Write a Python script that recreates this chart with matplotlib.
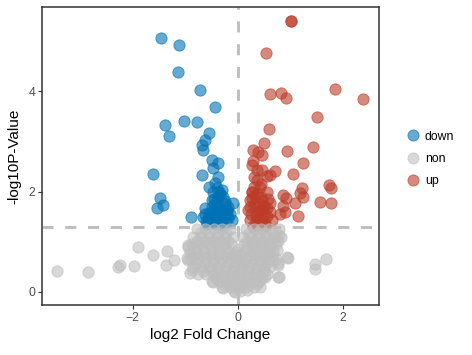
import matplotlib
matplotlib.use('Agg')
import matplotlib.pyplot as plt
from matplotlib.lines import Line2D

plt.rcParams['font.family'] = ['Liberation Sans', 'DejaVu Sans']

# log2 fold change / -log10 p
down_x = [-1.47, -1.12, -1.14, -0.72, -0.44, -1.39, -1.31, -1.03, -0.78, -0.55,
          -0.63, -0.69, -0.67, -0.50, -0.38, -0.48, -1.62, -0.69, -0.38, -0.44,
          -0.40, -0.30, -0.48, -0.29, -0.10, -0.50, -0.63, -0.40, -0.21, -1.49,
          -1.43, -1.54, -0.90, -0.67, -0.48, -0.29, -0.11, -0.53, -0.34, -0.19,
          -0.55, -0.35, -0.45, -0.25, -0.15, -0.60, -0.42, -0.22, -0.38, -0.55,
          -0.33, -0.45, -0.28, -0.38, -0.52, -0.30, -0.43, -0.58, -0.18, -0.36,
          -0.47, -0.25, -0.62, -0.40, -0.32, -0.50, -0.20, -0.44, -0.57, -0.27]
down_y = [5.06, 4.92, 4.38, 4.02, 3.69, 3.33, 3.11, 3.41, 3.39, 3.17,
          3.03, 2.93, 2.83, 2.63, 2.57, 2.47, 2.35, 2.33, 2.29, 2.17,
          2.07, 2.03, 1.99, 1.89, 1.77, 1.83, 1.67, 1.69, 1.63, 1.87,
          1.73, 1.67, 1.49, 1.49, 1.49, 1.49, 1.43, 1.39, 1.37, 1.69,
          1.58, 1.58, 1.75, 1.75, 1.55, 1.42, 1.42, 1.40, 1.90, 2.10,
          1.95, 1.85, 1.65, 1.62, 1.52, 1.45, 1.35, 1.36, 1.48, 2.00,
          1.60, 1.82, 1.55, 1.80, 1.34, 1.70, 1.60, 1.52, 1.45, 1.55]

up_x = [1.01, 1.01, 0.53, 0.61, 0.82, 0.91, 1.85, 2.38, 1.50, 0.59,
        0.50, 0.38, 0.46, 0.29, 0.29, 0.93, 1.43, 1.24, 0.36, 0.70,
        1.05, 0.55, 1.73, 1.77, 1.22, 1.18, 0.86, 0.91, 1.56, 1.77,
        1.09, 0.86, 0.90, 0.80, 1.14, 1.24, 0.27, 0.46, 0.36, 0.61,
        0.27, 0.42, 0.55, 0.23, 0.46, 0.61, 0.19, 0.42, 0.61, 0.23,
        0.46, 0.65, 0.29, 0.51, 0.30, 0.50, 0.35, 0.55, 0.33, 0.40, 0.30,
        0.25, 0.38, 0.48, 0.32, 0.44, 0.56, 0.28, 0.40, 0.52, 0.35,
        0.24, 0.45, 0.58, 0.31, 0.42, 0.36, 0.50, 0.27, 0.39]
up_y = [5.40, 5.41, 4.76, 3.94, 3.96, 3.86, 4.04, 3.84, 3.49, 3.25,
        2.97, 2.79, 2.73, 2.83, 2.61, 2.81, 2.89, 2.57, 2.43, 2.41,
        2.35, 2.31, 2.13, 2.07, 2.07, 1.97, 1.93, 1.87, 1.79, 1.77,
        1.77, 1.71, 1.59, 1.55, 1.51, 1.89, 2.53, 2.43, 2.23, 2.33,
        1.99, 2.09, 1.99, 1.83, 1.83, 1.77, 1.63, 1.63, 1.59, 1.43,
        1.43, 1.43, 1.32, 1.32, 1.72, 1.72, 1.52, 1.52, 1.92, 1.35, 2.10,
        1.55, 1.60, 1.65, 1.78, 1.90, 1.68, 2.00, 1.48, 1.38, 1.42,
        1.70, 2.15, 1.85, 2.30, 1.75, 1.95, 1.56, 1.88, 1.33]

non_x = [-3.45, -2.86, -2.29, -2.25, -1.98, -1.90, -1.62, -1.35, -1.37, -1.22,
         -0.95, -0.91, -0.95, -0.48, 0.95, 0.76, 0.78, 0.74, 1.47, 1.47, 1.68, 0.78,
         -0.78, -0.62, -0.46, -0.30, -0.15, 0.15, 0.30, 0.45, 0.60, 0.78,
         -0.85, -0.70, -0.55, -0.40, -0.25, -0.10, 0.10, 0.25, 0.40, 0.55, 0.70, 0.82,
         -0.88, -0.72, -0.57, -0.42, -0.27, -0.12, 0.12, 0.27, 0.42, 0.57, 0.72, 0.00,
         -0.92, -0.78, -0.63, -0.48, -0.33, -0.18, -0.03, 0.12, 0.27, 0.42, 0.57, 0.68,
         -0.90, -0.75, -0.60, -0.45, -0.30, -0.15, 0.00, 0.15, 0.30, 0.45, 0.60, 0.72,
         -0.85, -0.70, -0.55, -0.40, -0.25, -0.10, 0.05, 0.20, 0.35, 0.50, 0.62,
         -0.75, -0.60, -0.45, -0.30, -0.15, 0.00, 0.15, 0.30, 0.45, 0.55,
         -0.50, -0.35, -0.20, -0.05, 0.10, 0.25, 0.40,
         -0.30, -0.15, 0.00, 0.15, 0.30, -0.08, 0.05,
         -0.95, -0.97, -0.88, 0.93, 0.76, 0.76, 0.51, 0.42, 0.17, -0.06, -0.29,
         # second, staggered layer of the dense cloud
         -0.70, -0.54, -0.38, -0.22, 0.22, 0.38, 0.52, 0.68,
         -0.78, -0.62, -0.47, -0.33, -0.18, 0.18, 0.33, 0.48, 0.63, 0.76,
         -0.82, -0.67, -0.52, -0.37, -0.22, -0.08, 0.07, 0.20, 0.35, 0.50, 0.62,
         -0.83, -0.68, -0.53, -0.38, -0.23, -0.08, 0.08, 0.22, 0.37, 0.52, 0.65,
         -0.80, -0.63, -0.48, -0.33, -0.18, -0.03, 0.12, 0.27, 0.42, 0.55,
         -0.67, -0.52, -0.37, -0.22, -0.07, 0.08, 0.22, 0.37, 0.50,
         -0.42, -0.27, -0.12, 0.03, 0.18, 0.33, 0.47,
         -0.22, -0.08, 0.08, 0.22, 0.36]
non_y = [0.42, 0.40, 0.50, 0.54, 0.52, 0.90, 0.74, 0.82, 0.54, 0.64,
         0.90, 0.38, 0.64, 0.20, 0.68, 0.54, 0.30, 0.84, 0.56, 0.46, 0.66, 1.14,
         1.25, 1.25, 1.25, 1.25, 1.25, 1.25, 1.25, 1.25, 1.25, 1.25,
         1.10, 1.10, 1.10, 1.10, 1.10, 1.10, 1.10, 1.10, 1.10, 1.10, 1.10, 1.10,
         0.95, 0.95, 0.95, 0.95, 0.95, 0.95, 0.95, 0.95, 0.95, 0.95, 0.95, 0.85,
         0.80, 0.80, 0.80, 0.80, 0.80, 0.80, 0.80, 0.80, 0.80, 0.80, 0.80, 0.80,
         0.65, 0.65, 0.65, 0.65, 0.65, 0.65, 0.65, 0.65, 0.65, 0.65, 0.65, 0.65,
         0.50, 0.50, 0.50, 0.50, 0.50, 0.50, 0.50, 0.50, 0.50, 0.50, 0.50,
         0.35, 0.35, 0.35, 0.35, 0.35, 0.35, 0.35, 0.35, 0.35, 0.35,
         0.22, 0.22, 0.22, 0.22, 0.22, 0.22, 0.22,
         0.10, 0.10, 0.10, 0.10, 0.10, 0.02, 0.02,
         0.94, 0.68, 0.44, 0.70, 0.58, 0.30, 0.30, 0.10, 0.04, 0.00, 0.08,
         1.18, 1.18, 1.18, 1.18, 1.18, 1.18, 1.18, 1.18,
         1.02, 1.02, 1.02, 1.02, 1.02, 1.02, 1.02, 1.02, 1.02, 1.02,
         0.87, 0.87, 0.87, 0.87, 0.87, 0.72, 0.72, 0.87, 0.87, 0.87, 0.87,
         0.72, 0.72, 0.72, 0.72, 0.72, 0.72, 0.58, 0.72, 0.72, 0.72, 0.72,
         0.57, 0.57, 0.57, 0.57, 0.57, 0.57, 0.57, 0.57, 0.57, 0.57,
         0.42, 0.42, 0.42, 0.42, 0.42, 0.42, 0.42, 0.42, 0.42,
         0.28, 0.28, 0.28, 0.28, 0.28, 0.28, 0.28,
         0.16, 0.16, 0.16, 0.16, 0.16]

groups = ['down', 'non', 'up']
colors = {'down': '#0072B5', 'non': '#BEBEBE', 'up': '#BC3C29'}
p_cut = 1.301

fig = plt.figure(figsize=(4.72, 3.55), dpi=100)
ax = fig.add_axes([42 / 472, 50 / 355, 337 / 472, 298 / 355])

ax.axhline(p_cut, color='#BEBEBE', lw=2.1, ls=(0, (3.8, 4.0)), zorder=1)
ax.axvline(0, color='#BEBEBE', lw=2.1, ls=(0, (3.8, 4.0)), zorder=1)

pts = {'down': (down_x, down_y), 'non': (non_x, non_y), 'up': (up_x, up_y)}
for g in ['down', 'up', 'non']:
    xs, ys = pts[g]
    ax.scatter(xs, ys, s=66, c=colors[g], edgecolors=colors[g], linewidths=0.7,
               alpha=0.6, zorder=2)

ax.set_xlim(-3.73, 2.69)
ax.set_ylim(-0.26, 5.68)
ax.set_xticks([-2, 0, 2])
ax.set_yticks([0, 2, 4])
ax.tick_params(length=3, width=0.8, color='#333333', labelcolor='#4D4D4D',
               labelsize=8.8, pad=2)
for sp in ax.spines.values():
    sp.set_color('#333333')
    sp.set_linewidth(1.1)

ax.set_xlabel('log2 Fold Change', fontsize=11, labelpad=3)
ax.set_ylabel('-log10P-Value', fontsize=11, labelpad=5)

handles = [Line2D([], [], ls='none', marker='o', markersize=8,
                  markerfacecolor=colors[g], markeredgecolor=colors[g],
                  markeredgewidth=0.7, alpha=0.6) for g in groups]
fig.legend(handles, groups, loc='center left', bbox_to_anchor=(401 / 472, 1 - 159 / 355),
           frameon=False, fontsize=8.8, handlelength=1.0, handletextpad=0.45,
           labelspacing=0.85, borderpad=0)

fig.savefig('out.png', dpi=100)
